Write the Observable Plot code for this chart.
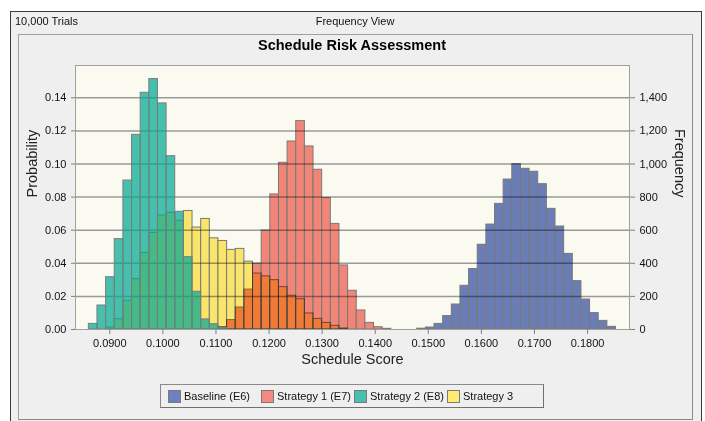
<!DOCTYPE html>
<html><head><meta charset="utf-8">
<script src="https://cdn.jsdelivr.net/npm/d3@7"></script>
<script src="https://cdn.jsdelivr.net/npm/@observablehq/plot@0.6"></script>
<style>
html,body{margin:0;padding:0;background:#fff;width:705px;height:421px;overflow:hidden;font-family:"Liberation Sans",Arial,sans-serif;}
#outer{position:absolute;left:10px;top:11px;width:690px;height:420px;border:1px solid #3a3a3a;border-bottom:none;background:#efefef;}
#inner{position:absolute;left:18px;top:34px;width:673px;height:384px;border:1px solid #a0a0a0;border-right-color:#8a8a8a;border-bottom-color:#8a8a8a;background:#efefef;}
.t{position:absolute;font-size:11px;line-height:13px;color:#111;white-space:nowrap;}
#title{position:absolute;left:75px;width:554px;top:36px;text-align:center;font-weight:bold;font-size:14.5px;line-height:18px;color:#000;}
#chart{position:absolute;left:0;top:56px;}
#legend{position:absolute;left:160px;top:384px;width:382px;height:22px;border:1px solid #8a8a8a;border-right-color:#707070;border-bottom-color:#707070;}
.sw{position:absolute;top:390px;width:11px;height:11px;border:1px solid #7a7a7a;}
.lt{position:absolute;top:389.5px;font-size:11px;line-height:13px;color:#111;white-space:nowrap;}
</style></head>
<body>
<div id="outer"></div>
<div id="inner"></div>
<div class="t" style="left:15px;top:15px;">10,000 Trials</div>
<div class="t" style="left:255px;width:200px;text-align:center;top:15px;">Frequency View</div>
<div id="title">Schedule Risk Assessment</div>
<div id="chart"></div>
<div id="legend"></div>
<div id="legendItems"></div>
<script>
// ---- data ----
const seriesNames = ["Baseline (E6)", "Strategy 1 (E7)", "Strategy 2 (E8)", "Strategy 3"];
const seriesColors = ["#6c80c2", "#f6897f", "#46c0b1", "#ffea72"];
// common histogram bins (all forecasts share the same bins)
const binStart = 0.08605;
const binWidth = 0.001628;
// first bin index of each series, then probability per bin
const baselineStart = 38;
const baseline = [0.0005, 0.0012, 0.0034, 0.0081, 0.0151, 0.0264, 0.0365, 0.0512, 0.0634, 0.0759,
  0.0906, 0.0999, 0.0971, 0.0953, 0.0878, 0.0729, 0.0622, 0.0457, 0.0292, 0.0181, 0.0099, 0.0052, 0.0016];
const strategy1Start = 15;
const strategy1 = [0.0015, 0.0057, 0.0133, 0.0241, 0.0398, 0.0598, 0.0816, 0.1007, 0.1136, 0.1259,
  0.1106, 0.0965, 0.0794, 0.0638, 0.0387, 0.0234, 0.0115, 0.0040, 0.0014, 0.0004];
const strategy2Start = 0;
const strategy2 = [0.0034, 0.0145, 0.0316, 0.0546, 0.0900, 0.1176, 0.1430, 0.1513, 0.1366, 0.1047,
  0.0711, 0.0437, 0.0228, 0.0061, 0.0032, 0.0009];
const strategy3Start = 2;
const strategy3 = [0.0012, 0.0062, 0.0173, 0.0304, 0.0463, 0.0584, 0.0689, 0.0705, 0.0657, 0.0716,
  0.0616, 0.0668, 0.0551, 0.0535, 0.0481, 0.0487, 0.0410, 0.0338, 0.0321, 0.0298,
  0.0256, 0.0204, 0.0183, 0.0097, 0.0064, 0.0040, 0.0022, 0.0006];
// ticks
const probTicks = [0, 0.02, 0.04, 0.06, 0.08, 0.10, 0.12, 0.14];
const probLabels = ["0.00", "0.02", "0.04", "0.06", "0.08", "0.10", "0.12", "0.14"];
const freqLabels = ["0", "200", "400", "600", "800", "1,000", "1,200", "1,400"];
const xTicks = [0.09, 0.10, 0.11, 0.12, 0.13, 0.14, 0.15, 0.16, 0.17, 0.18];
const xLabels = ["0.0900", "0.1000", "0.1100", "0.1200", "0.1300", "0.1400", "0.1500", "0.1600", "0.1700", "0.1800"];

const seriesList = [
  {name: seriesNames[0], start: baselineStart, values: baseline},
  {name: seriesNames[1], start: strategy1Start, values: strategy1},
  {name: seriesNames[2], start: strategy2Start, values: strategy2},
  {name: seriesNames[3], start: strategy3Start, values: strategy3}
];
const bins = seriesList.flatMap(s => s.values.map((p, i) => ({
  series: s.name,
  x1: binStart + (s.start + i) * binWidth,
  x2: binStart + (s.start + i + 1) * binWidth,
  p
})));
const of = name => bins.filter(d => d.series === name);

// drawing colours: Strategy 2 is drawn translucent on top, the others multiply-blended
const drawColors = ["#6c80c2", "#f6897f", "#00a892", "#ffea72"];
const font = '"Liberation Sans", Arial, sans-serif';
const rectOpts = {x1: "x1", x2: "x2", y1: 0, y2: "p", fill: "series", stroke: "#7c7c7c", strokeWidth: 1};
const plot = Plot.plot({
  width: 705, height: 314,
  marginLeft: 75, marginRight: 76, marginTop: 9, marginBottom: 41,
  style: {background: "transparent", fontFamily: font, fontSize: "11px", color: "#111"},
  x: {domain: [0.08354, 0.1879]},
  y: {domain: [0, 0.1595]},
  color: {domain: seriesNames, range: drawColors},
  marks: [
    Plot.frame({fill: "#fafaf1", stroke: null}),
    Plot.gridY(probTicks.filter(d => d > 0), {stroke: "#9a9a9a", strokeOpacity: 1, strokeWidth: 1.5}),
    Plot.rect(of(seriesNames[0]), rectOpts),
    Plot.rect(of(seriesNames[3]), rectOpts),
    Plot.rect(of(seriesNames[1]), rectOpts),
    Plot.rect(of(seriesNames[2]), {...rectOpts, fillOpacity: 0.72}),
    Plot.frame({stroke: "#a0a0a0"}),
    Plot.axisY(probTicks, {anchor: "left", tickSize: 4, tickPadding: 5, stroke: "#808080", fill: "#111",
      tickFormat: d => probLabels[probTicks.indexOf(d)], label: null}),
    Plot.axisY(probTicks, {anchor: "right", tickSize: 5, tickPadding: 5, stroke: "#808080", fill: "#111",
      tickFormat: d => freqLabels[probTicks.indexOf(d)], label: null}),
    Plot.axisX(xTicks, {anchor: "bottom", tickSize: 5, tickPadding: 5, stroke: "#808080", fill: "#111",
      tickFormat: d => xLabels[xTicks.indexOf(d)], label: null}),
    Plot.text(["Probability"], {text: d => d, frameAnchor: "left", dx: -43, rotate: -90, fontSize: 14.5, fill: "#222", lineAnchor: "middle"}),
    Plot.text(["Frequency"], {text: d => d, frameAnchor: "right", dx: 50, rotate: 90, fontSize: 14.5, fill: "#222", lineAnchor: "middle"}),
    Plot.text(["Schedule Score"], {text: d => d, frameAnchor: "bottom", dy: 29.5, fontSize: 14.5, fill: "#222", lineAnchor: "middle"})
  ]
});
// blend modes: the first three rect groups (Baseline, Strategy 3, Strategy 1) multiply
const rectGroups = plot.querySelectorAll('g[aria-label="rect"]');
[0, 1, 2].forEach(i => { if (rectGroups[i]) rectGroups[i].style.mixBlendMode = "multiply"; });
document.getElementById("chart").appendChild(plot);

// legend
const legendX = [168, 261, 354, 447];
const li = document.getElementById("legendItems");
seriesNames.forEach((n, i) => {
  const sw = document.createElement("div");
  sw.className = "sw"; sw.style.left = legendX[i] + "px"; sw.style.background = seriesColors[i];
  li.appendChild(sw);
  const t = document.createElement("div");
  t.className = "lt"; t.style.left = (legendX[i] + 16) + "px"; t.textContent = n;
  li.appendChild(t);
});
</script>
</body></html>
